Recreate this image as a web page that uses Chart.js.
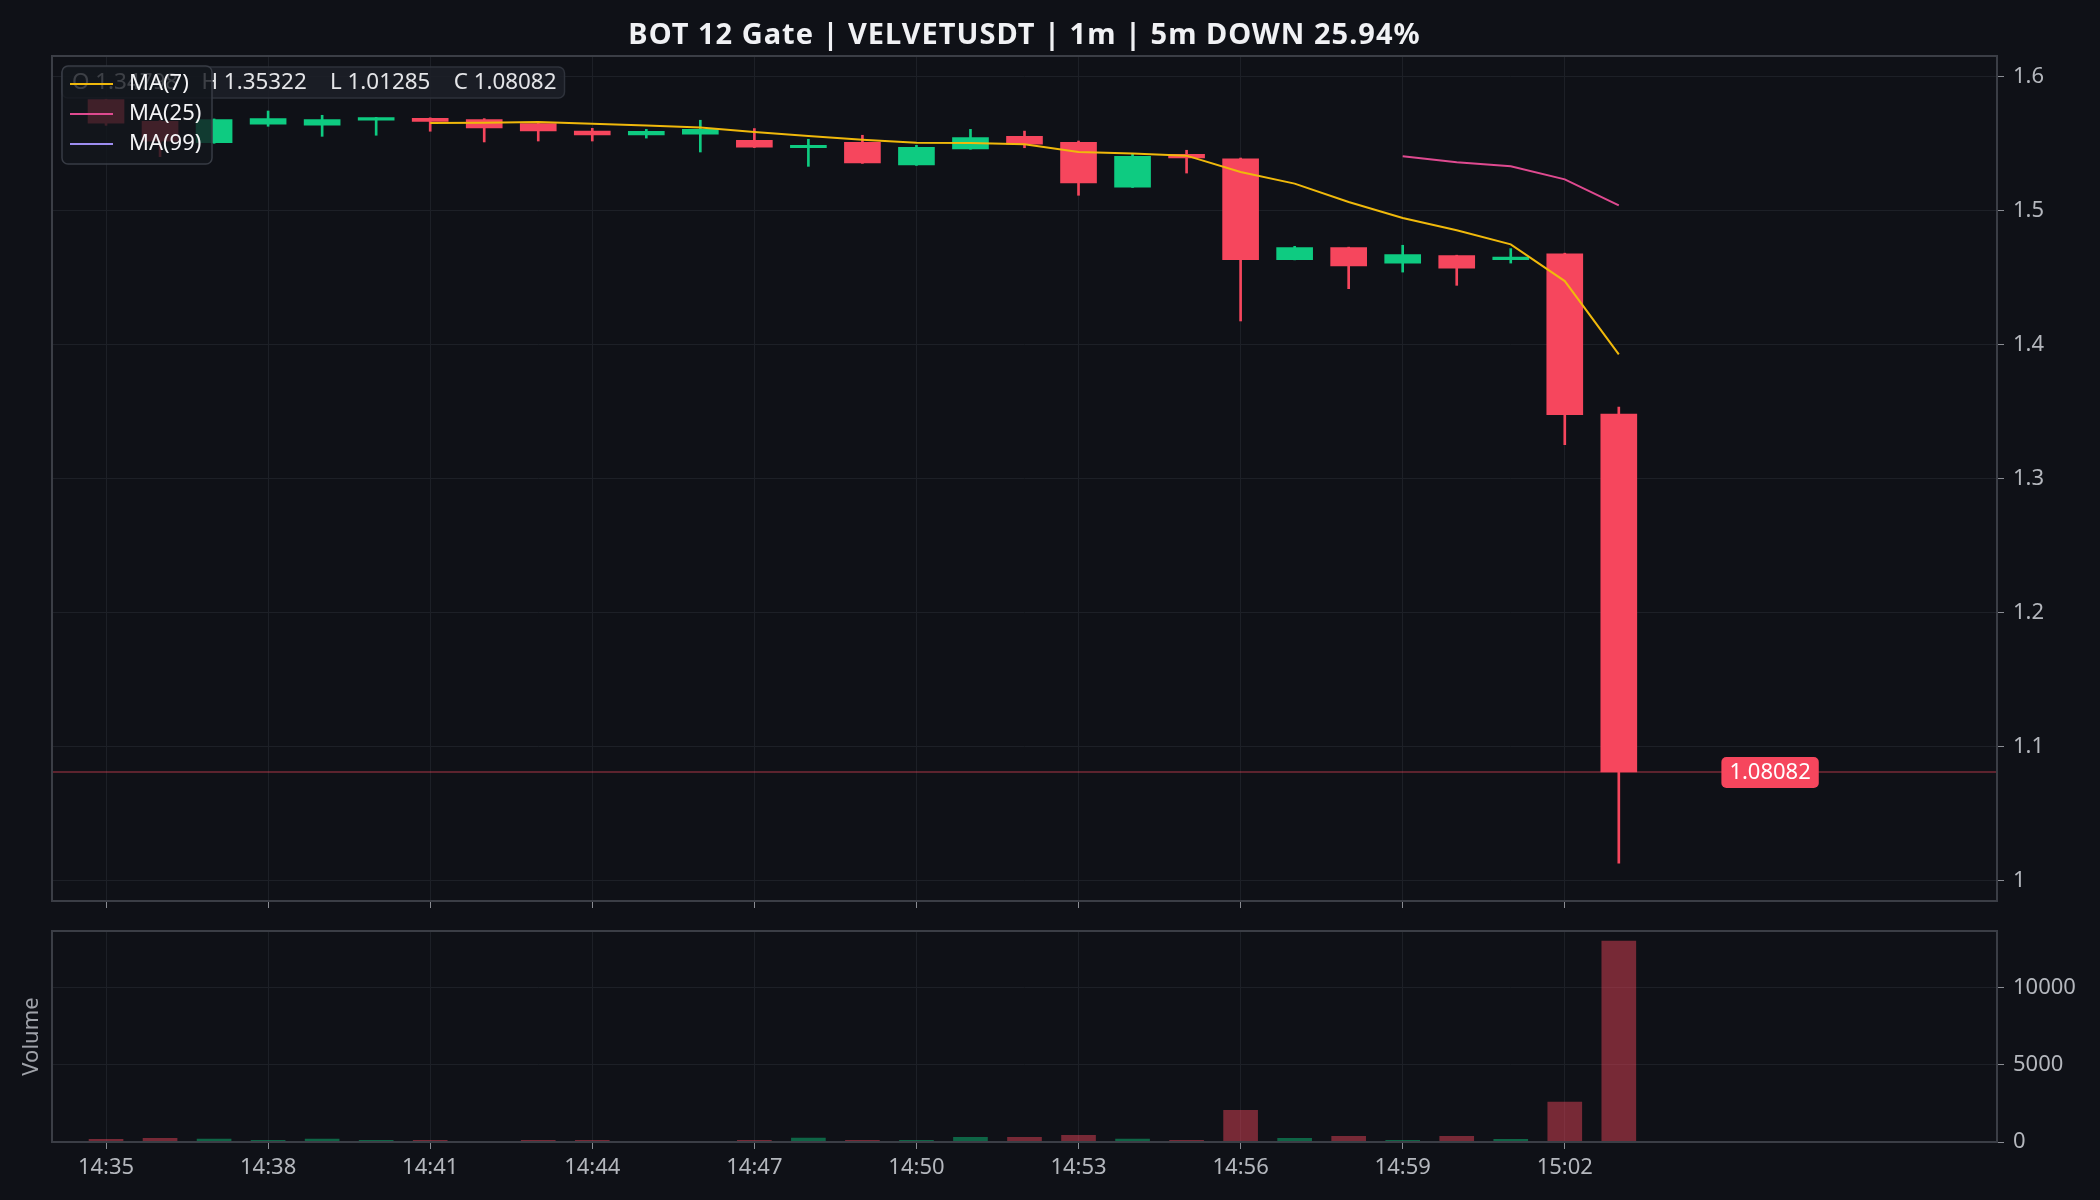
<!DOCTYPE html>
<html>
<head>
<meta charset="utf-8">
<title>VELVETUSDT 1m</title>
<script src="https://cdn.jsdelivr.net/npm/chart.js@4.4.1/dist/chart.umd.min.js"></script>
<style>
  html, body { margin: 0; padding: 0; background: #0f1117; }
  #wrap { position: relative; width: 2100px; height: 1200px; overflow: hidden; }
  canvas { position: absolute; left: 0; }
  #priceCanvas { top: 0; }
  #volCanvas { top: 915px; }
</style>
</head>
<body>
<div id="wrap">
  <canvas id="priceCanvas" width="2100" height="915"></canvas>
  <canvas id="volCanvas" width="2100" height="285"></canvas>
</div>
<script>
// --- data (1m candles) ---
const times = ['14:35','14:36','14:37','14:38','14:39','14:40','14:41','14:42','14:43','14:44',
               '14:45','14:46','14:47','14:48','14:49','14:50','14:51','14:52','14:53','14:54',
               '14:55','14:56','14:57','14:58','14:59','15:00','15:01','15:02','15:03'];
const opens  = [1.5826,1.5664,1.5505,1.5642,1.5636,1.5672,1.5687,1.5677,1.5647,1.5592,
                1.5562,1.5569,1.5522,1.5468,1.5507,1.5338,1.5458,1.5552,1.5507,1.5173,
                1.5418,1.5385,1.4632,1.4721,1.4606,1.4662,1.4632,1.4676,1.34798];
const highs  = [1.5830,1.5670,1.5682,1.5741,1.5709,1.5694,1.5690,1.5684,1.5652,1.5612,
                1.5604,1.5672,1.5610,1.5530,1.5560,1.5485,1.5604,1.5591,1.5517,1.5418,
                1.5448,1.5390,1.4731,1.4725,1.4739,1.4665,1.4714,1.4680,1.35322];
const lows   = [1.5634,1.5400,1.5500,1.5627,1.5552,1.5560,1.5590,1.5510,1.5517,1.5517,
                1.5539,1.5435,1.5468,1.5328,1.5350,1.5335,1.5455,1.5467,1.5112,1.5170,
                1.5278,1.4174,1.4630,1.4415,1.4539,1.4440,1.4606,1.3251,1.01285];
const closes = [1.5651,1.5515,1.5677,1.5684,1.5677,1.5692,1.5664,1.5614,1.5592,1.5562,
                1.5590,1.5604,1.5472,1.5485,1.5353,1.5470,1.5542,1.5494,1.5204,1.5403,
                1.5390,1.4632,1.4721,1.4584,1.4669,1.4569,1.4651,1.3475,1.08082];
const volumes = [175,240,195,110,195,110,110,40,110,110,
                 20,30,110,260,110,110,300,300,430,195,
                 110,2050,240,370,110,370,175,2590,13000];
const ma7  = [null,null,null,null,null,null,1.5651,1.5654,1.5659,1.5645,
              1.5632,1.5617,1.5584,1.5554,1.5527,1.5505,1.5502,1.5493,1.5435,1.5423,
              1.5408,1.5286,1.5199,1.5062,1.4943,1.4851,1.4746,1.4472,1.3925];
const ma25 = [null,null,null,null,null,null,null,null,null,null,
              null,null,null,null,null,null,null,null,null,null,
              null,null,null,null,1.5403,1.5358,1.5328,1.5231,1.5037];
const ma99 = [];

const priceTicks = [1, 1.1, 1.2, 1.3, 1.4, 1.5, 1.6];
const volumeTicks = [0, 5000, 10000];
const timeTickIndex = [0, 3, 6, 9, 12, 15, 18, 21, 24, 27];
const chartTitle = 'BOT 12 Gate | VELVETUSDT | 1m | 5m DOWN 25.94%';

// --- styling ---
const FONT = "'Noto Sans', sans-serif";
const colors = {
    bg: '#0f1117',
    up: '#0ecb81',
    down: '#f6465d',
    upVol: 'rgba(14, 203, 129, 0.45)',
    downVol: 'rgba(246, 70, 93, 0.45)',
    grid: '#1d2027',
    tick: '#8a8d94',
    spine: '#3b3e46',
    text: '#b4b7bd',
    title: '#f0f1f4',
    ma7: '#f0b90b',
    ma25: '#df4a90',
    ma99: '#9d8df1'
};

Chart.defaults.font.family = FONT;
Chart.defaults.font.size = 22;
Chart.defaults.color = colors.text;

const isUp = i => closes[i] >= opens[i];
const dirColor = times.map((t, i) => isUp(i) ? colors.up : colors.down);
const last = closes.length - 1;

function roundRect(ctx, x, y, w, h, r) {
    ctx.beginPath();
    ctx.moveTo(x + r, y);
    ctx.arcTo(x + w, y, x + w, y + h, r);
    ctx.arcTo(x + w, y + h, x, y + h, r);
    ctx.arcTo(x, y + h, x, y, r);
    ctx.arcTo(x, y, x + w, y, r);
    ctx.closePath();
}

// box around each panel (matplotlib style spines)
const panelFrame = {
    id: 'panelFrame',
    afterDraw(chart) {
        const { ctx, chartArea: a } = chart;
        ctx.save();
        ctx.strokeStyle = colors.spine;
        ctx.lineWidth = 2;
        ctx.strokeRect(a.left, a.top, a.right - a.left, a.bottom - a.top);
        ctx.restore();
    }
};

// last price line, OHLC box, legend, price tag, title
const priceOverlay = {
    id: 'priceOverlay',
    beforeDatasetsDraw(chart) {
        const { ctx, chartArea: a, scales } = chart;
        const y = scales.y.getPixelForValue(closes[last]);
        ctx.save();
        ctx.strokeStyle = 'rgba(246, 70, 93, 0.45)';
        ctx.lineWidth = 1.5;
        ctx.beginPath();
        ctx.moveTo(a.left, y);
        ctx.lineTo(a.right, y);
        ctx.stroke();
        ctx.restore();
    },
    afterDatasetsDraw(chart) {
        const { ctx, scales } = chart;
        ctx.save();

        // price tag
        const py = scales.y.getPixelForValue(closes[last]);
        const px = scales.x.getPixelForValue(last + 2.8);
        const tag = closes[last].toFixed(5);
        ctx.font = `22px ${FONT}`;
        const tw = ctx.measureText(tag).width;
        ctx.fillStyle = colors.down;
        roundRect(ctx, px - tw / 2 - 8, py - 15, tw + 16, 31, 5);
        ctx.fill();
        ctx.fillStyle = '#ffffff';
        ctx.textAlign = 'center';
        ctx.textBaseline = 'middle';
        ctx.fillText(tag, px, py + 1);

        // OHLC info box
        const info = `O ${opens[last].toFixed(5)}    H ${highs[last].toFixed(5)}    L ${lows[last].toFixed(5)}    C ${closes[last].toFixed(5)}`;
        ctx.font = `22.4px ${FONT}`;
        const iw = ctx.measureText(info).width;
        ctx.fillStyle = 'rgba(28, 32, 40, 0.85)';
        ctx.strokeStyle = '#2e323b';
        ctx.lineWidth = 1.5;
        roundRect(ctx, 62, 67, iw + 18, 31, 6);
        ctx.fill();
        ctx.stroke();
        ctx.fillStyle = '#e4e5e8';
        ctx.textAlign = 'left';
        ctx.fillText(info, 72, 83);

        // legend
        const mas = chart.data.datasets.filter(d => d.type === 'line');
        ctx.font = `22px ${FONT}`;
        ctx.fillStyle = 'rgba(19, 22, 29, 0.8)';
        ctx.strokeStyle = '#383c45';
        roundRect(ctx, 62, 66, 150, 98, 6);
        ctx.fill();
        ctx.stroke();
        mas.forEach((d, k) => {
            const ry = 84 + k * 30;
            ctx.strokeStyle = d.borderColor;
            ctx.lineWidth = 2;
            ctx.beginPath();
            ctx.moveTo(70, ry);
            ctx.lineTo(113, ry);
            ctx.stroke();
            ctx.fillStyle = '#f4f4f6';
            ctx.fillText(d.label, 129, ry);
        });

        ctx.restore();
    },
    afterDraw(chart) {
        const { ctx, chartArea: a } = chart;
        ctx.save();
        ctx.font = `bold 29px ${FONT}`;
        ctx.letterSpacing = '1px';
        ctx.fillStyle = colors.title;
        ctx.textAlign = 'center';
        ctx.textBaseline = 'alphabetic';
        ctx.fillText(chartTitle, (a.left + a.right) / 2, 44);
        ctx.restore();
    }
};

const volumeLabel = {
    id: 'volumeLabel',
    afterDraw(chart) {
        const { ctx, chartArea: a } = chart;
        ctx.save();
        ctx.translate(32, (a.top + a.bottom) / 2);
        ctx.rotate(-Math.PI / 2);
        ctx.font = `22px ${FONT}`;
        ctx.fillStyle = '#9fa2a9';
        ctx.textAlign = 'center';
        ctx.textBaseline = 'middle';
        ctx.fillText('Volume', 0, 0);
        ctx.restore();
    }
};

function timeAxis(showLabels, height) {
    return {
        type: 'linear',
        min: -1,
        max: 35,
        offset: false,
        grid: { color: colors.grid, offset: false, tickColor: colors.tick, tickLength: 7, lineWidth: 1 },
        border: { display: false },
        afterBuildTicks: s => { s.ticks = timeTickIndex.map(v => ({ value: v })); },
        ticks: {
            display: showLabels,
            color: colors.text,
            padding: 6,
            maxRotation: 0,
            callback: v => times[v]
        },
        afterFit: s => {
            s.height = height;
            s.paddingLeft = 0;
            s.paddingRight = 0;
        }
    };
}

function valueAxis(min, max, ticks, fmt) {
    return {
        position: 'right',
        min: min,
        max: max,
        grid: { color: colors.grid, tickColor: colors.tick, tickLength: 7, lineWidth: 1 },
        border: { display: false },
        afterBuildTicks: s => { s.ticks = ticks.map(v => ({ value: v })); },
        ticks: { color: colors.text, padding: 9, callback: fmt },
        afterFit: s => {
            s.width = 103;
            s.paddingTop = 0;
            s.paddingBottom = 0;
        }
    };
}

const baseOptions = {
    responsive: false,
    animation: false,
    devicePixelRatio: 1,
    events: [],
    plugins: { legend: { display: false }, tooltip: { enabled: false } }
};

new Chart(document.getElementById('priceCanvas'), {
    type: 'bar',
    data: {
        datasets: [
            { type: 'line', label: 'MA(7)', data: times.map((t, i) => ({ x: i, y: ma7[i] })),
              borderColor: colors.ma7, borderWidth: 2, pointRadius: 0, order: 0 },
            { type: 'line', label: 'MA(25)', data: times.map((t, i) => ({ x: i, y: ma25[i] })),
              borderColor: colors.ma25, borderWidth: 2, pointRadius: 0, order: 0 },
            { type: 'line', label: 'MA(99)', data: ma99,
              borderColor: colors.ma99, borderWidth: 2, pointRadius: 0, order: 0 },
            { label: 'body', data: times.map((t, i) => ({ x: i, y: [opens[i], closes[i]] })),
              backgroundColor: dirColor, barThickness: 36, grouped: false, borderWidth: 0, order: 1 },
            { label: 'wick', data: times.map((t, i) => ({ x: i, y: [lows[i], highs[i]] })),
              backgroundColor: dirColor, barThickness: 2, grouped: false, borderWidth: 0, order: 2 }
        ]
    },
    options: Object.assign({}, baseOptions, {
        layout: { padding: { left: 52, top: 56, right: 0, bottom: 0 } },
        scales: {
            x: timeAxis(false, 14),
            y: valueAxis(0.98455, 1.61515, priceTicks, v => String(+v.toFixed(1)))
        }
    }),
    plugins: [priceOverlay, panelFrame]
});

new Chart(document.getElementById('volCanvas'), {
    type: 'bar',
    data: {
        datasets: [{
            label: 'Volume',
            data: times.map((t, i) => ({ x: i, y: volumes[i] })),
            backgroundColor: times.map((t, i) => isUp(i) ? colors.upVol : colors.downVol),
            barThickness: 34,
            borderWidth: 0
        }]
    },
    options: Object.assign({}, baseOptions, {
        layout: { padding: { left: 52, top: 16, right: 0, bottom: 0 } },
        scales: {
            x: timeAxis(true, 58),
            y: valueAxis(0, 13650, volumeTicks, v => String(v))
        }
    }),
    plugins: [volumeLabel, panelFrame]
});
</script>
</body>
</html>
